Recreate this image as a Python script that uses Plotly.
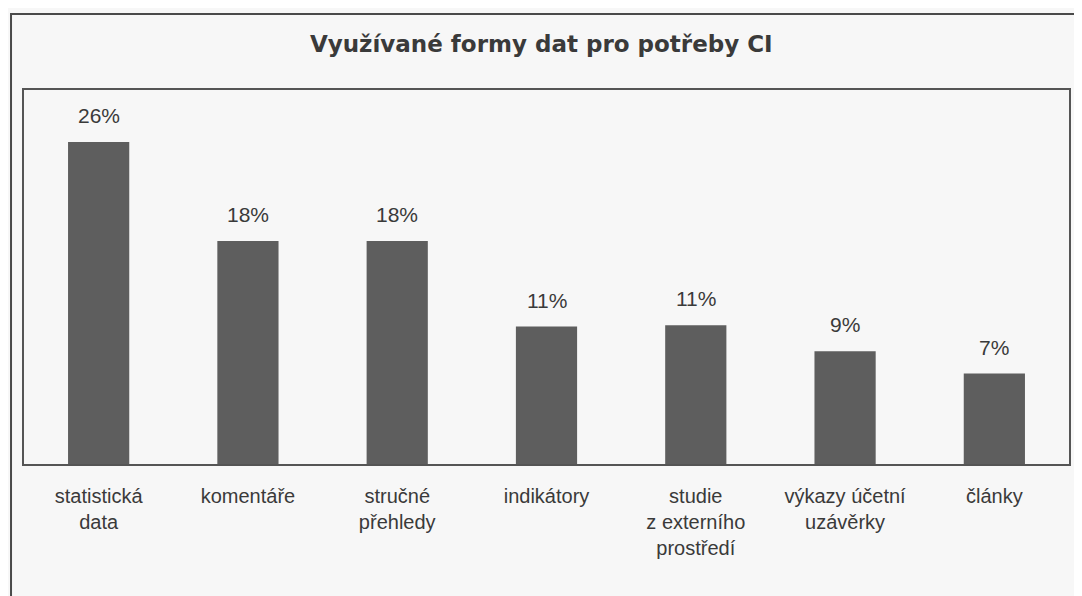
import plotly.graph_objects as go

categories = ["statistická<br>data", "komentáře", "stručné<br>přehledy", "indikátory",
              "studie<br>z externího<br>prostředí", "výkazy účetní<br>uzávěrky", "články"]
values = [26.0, 18.0, 18.0, 11.1, 11.2, 9.1, 7.3]
labels = ["26%", "18%", "18%", "11%", "11%", "9%", "7%"]
title = "Využívané formy dat pro potřeby CI"

# page body has an 8px margin, so the figure is 8px smaller and everything is offset by 8
OFF = 8
W, H = 1082 - OFF, 596 - OFF
ml, mr, mt, mb = 24 - OFF, 11, 90 - OFF, 132
pw = W - ml - mr
ph = H - mt - mb

font_fam = "Liberation Sans, Arial, sans-serif"
txt_col = "#3a3a3a"

fig = go.Figure()
fig.add_trace(go.Bar(
    x=categories, y=values,
    marker=dict(color="#5e5e5e", line=dict(width=0)),
    width=0.41,
    hoverinfo="skip",
))

for c, v, t in zip(categories, values, labels):
    fig.add_annotation(x=c, y=v, text=t, showarrow=False, yanchor="bottom",
                       yshift=13, font=dict(family=font_fam, size=21, color=txt_col))


def px_to_paper_x(px):
    return (px - OFF - ml) / pw


def px_to_paper_y(py):
    return (H - mb - (py - OFF)) / ph


# outer chart-area border (runs off the right and bottom edges as in the reference)
fig.add_shape(type="rect", xref="paper", yref="paper",
              x0=px_to_paper_x(11), x1=px_to_paper_x(1095),
              y0=px_to_paper_y(610), y1=px_to_paper_y(14),
              line=dict(color="#4a4a4a", width=2), fillcolor="rgba(0,0,0,0)", layer="below")

fig.update_layout(
    width=W, height=H,
    margin=dict(l=ml, r=mr, t=mt, b=mb, pad=0),
    paper_bgcolor="#f7f7f7",
    plot_bgcolor="#f7f7f7",
    showlegend=False,
    title=dict(text="<b>" + title + "</b>", x=0.495, xanchor="center", xref="paper",
               y=1 - (44 - OFF) / H, yanchor="middle",
               font=dict(family="DejaVu Sans, sans-serif", size=23, color="#3a3a3a")),
)
fig.update_xaxes(showline=True, linecolor="#555555", linewidth=1.5, mirror=True,
                 ticks="", showgrid=False, ticklabelstandoff=13,
                 tickfont=dict(family=font_fam, size=20, color=txt_col))
fig.update_yaxes(range=[0, 30.2], showline=True, linecolor="#555555", linewidth=1.5,
                 mirror=True, showticklabels=False, showgrid=False, zeroline=False, ticks="")

fig.write_html("out.html")
